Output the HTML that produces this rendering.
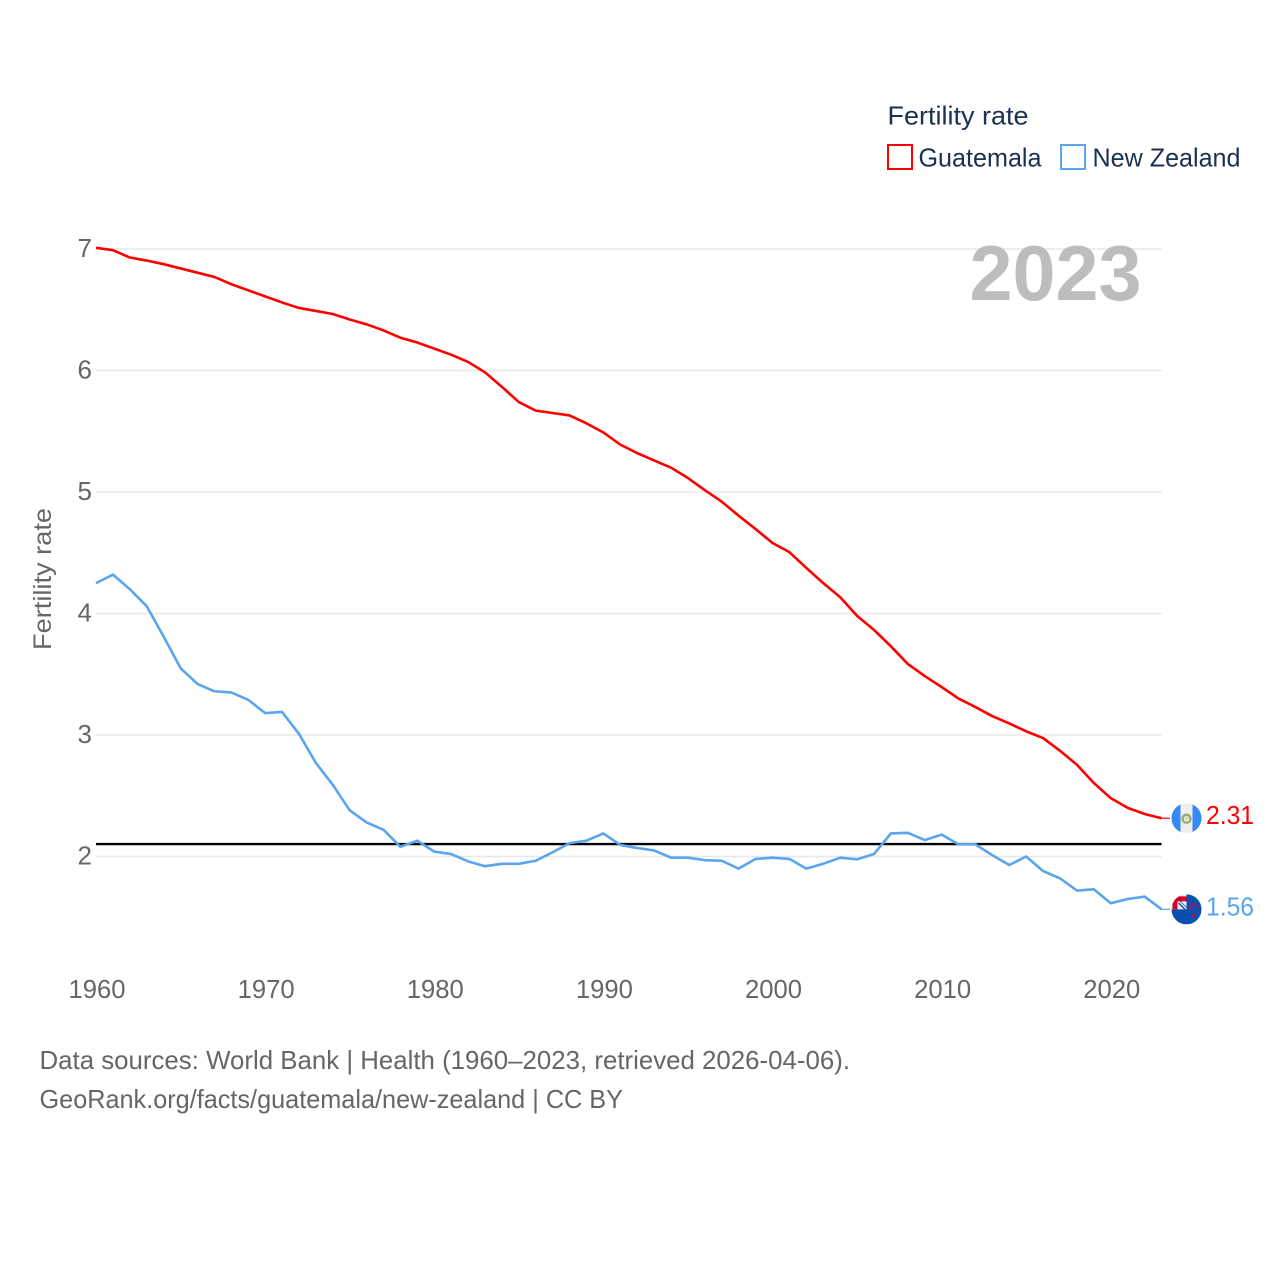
<!DOCTYPE html>
<html lang="en">
<head>
<meta charset="utf-8">
<title>Fertility rate: Guatemala and New Zealand</title>
<style>
html,body{margin:0;padding:0;background:#fff;}
svg{display:block;}
text{font-family:"Liberation Sans",sans-serif;}
</style>
</head>
<body>
<svg id="chart" xmlns="http://www.w3.org/2000/svg" width="1280" height="1280" viewBox="0 0 1280 1280">
  <defs>
    <clipPath id="flag-clip-gt"><circle cx="0" cy="0" r="15"/></clipPath>
    <clipPath id="flag-clip-nz"><circle cx="0" cy="0" r="15"/></clipPath>
  </defs>
  <rect x="0" y="0" width="1280" height="1280" fill="#fff"/>
  <g id="grid"></g>
  <text x="969.5" y="300" font-size="78" font-weight="700" fill="#bdbdbd" textLength="172" lengthAdjust="spacingAndGlyphs">2023</text>
  <g id="yticks"></g>
  <g id="xticks"></g>
  <text transform="translate(51,650) rotate(-90)" font-size="25" fill="#666" textLength="142" lengthAdjust="spacingAndGlyphs">Fertility rate</text>
  <g id="series"></g>
  <g id="flag-gt">
    <g clip-path="url(#flag-clip-gt)">
      <rect x="-15" y="-15" width="30" height="30" fill="#eeeeee"/>
      <rect x="-15" y="-15" width="9" height="30" fill="#338af3"/>
      <rect x="6" y="-15" width="9" height="30" fill="#338af3"/>
      <circle cx="0" cy="0.5" r="4" fill="none" stroke="#9aa878" stroke-width="2.4"/>
      <circle cx="0" cy="0" r="1.6" fill="#d8d4a0"/>
    </g>
  </g>
  <g id="flag-nz">
    <g clip-path="url(#flag-clip-nz)">
      <rect x="-15" y="-15" width="30" height="30" fill="#0a4fb0"/>
      <rect x="-15" y="-15" width="15" height="15" fill="#f0f0f0"/>
      <path d="M-14-13H0V-8H-9V0H-14Z" fill="#d80027"/>
      <path d="M-7-7L0 0" stroke="#0a4fb0" stroke-width="3.5" fill="none"/>
      <path d="M-6.5-7L0-.5" stroke="#f0f0f0" stroke-width="1.4" fill="none"/>
      <circle cx="7" cy="-5" r="1.4" fill="#d80027"/>
      <circle cx="3.5" cy="-1.5" r="1.4" fill="#d80027"/>
      <circle cx="10.5" cy="-2.5" r="1.2" fill="#d80027"/>
      <circle cx="7" cy="6" r="1.5" fill="#d80027"/>
    </g>
  </g>
  <g id="endlabels"></g>
  <g>
    <text x="887.5" y="124.5" font-size="26" fill="#1a3150" textLength="141" lengthAdjust="spacingAndGlyphs">Fertility rate</text>
    <g>
      <rect x="888" y="145" width="24" height="24" fill="#fff" stroke="#ff0000" stroke-width="2"/>
      <text x="918.5" y="166.5" font-size="26" fill="#1a3150" textLength="123" lengthAdjust="spacingAndGlyphs">Guatemala</text>
    </g>
    <g>
      <rect x="1061" y="145" width="24" height="24" fill="#fff" stroke="#5ba4ee" stroke-width="2"/>
      <text x="1092.5" y="166.5" font-size="26" fill="#1a3150" textLength="148" lengthAdjust="spacingAndGlyphs">New Zealand</text>
    </g>
  </g>
  <text x="39.5" y="1069" font-size="26" fill="#666" textLength="810.5" lengthAdjust="spacingAndGlyphs">Data sources: World Bank | Health (1960–2023, retrieved 2026-04-06).</text>
  <text x="39.5" y="1108" font-size="26" fill="#666" textLength="583.5" lengthAdjust="spacingAndGlyphs">GeoRank.org/facts/guatemala/new-zealand | CC BY</text>
</svg>
<script>
const firstYear = 1960;
const guatemalaValues = [7.01,6.99,6.93,6.905,6.875,6.84,6.805,6.77,6.71,6.66,6.61,6.56,6.515,6.49,6.465,6.42,6.38,6.33,6.27,6.23,6.18,6.13,6.07,5.985,5.865,5.74,5.67,5.65,5.63,5.565,5.49,5.39,5.32,5.26,5.2,5.115,5.015,4.92,4.805,4.695,4.58,4.505,4.375,4.25,4.135,3.98,3.865,3.73,3.585,3.485,3.395,3.3,3.23,3.155,3.095,3.03,2.975,2.87,2.755,2.605,2.48,2.4,2.35,2.315];
const newZealandValues = [4.25,4.32,4.2,4.06,3.81,3.55,3.42,3.36,3.35,3.29,3.18,3.19,3.01,2.77,2.59,2.38,2.28,2.22,2.08,2.13,2.04,2.02,1.96,1.92,1.94,1.94,1.965,2.035,2.11,2.13,2.19,2.095,2.07,2.05,1.99,1.99,1.97,1.965,1.9,1.98,1.99,1.98,1.9,1.94,1.99,1.977,2.02,2.19,2.195,2.135,2.18,2.1,2.1,2.01,1.93,2,1.88,1.82,1.72,1.73,1.615,1.65,1.67,1.565];
const replacementValue = 2.1;
const yTickLabels = [2,3,4,5,6,7];
const xTickLabels = [1960,1970,1980,1990,2000,2010,2020];
const guatemalaEndLabel = "2.31";
const newZealandEndLabel = "1.56";

const NS = "http://www.w3.org/2000/svg";
const xScale = function (year) { return 96 + (year - 1960) * (1161.5 - 96) / 63; };
const yScale = function (v) { return 249 + (7 - v) * 121.5; };
const X_END = xScale(2023);
const get = function (id) { return document.getElementById(id); };

function make(tag, attrs, parent) {
  const el = document.createElementNS(NS, tag);
  Object.keys(attrs).forEach(function (k) { el.setAttribute(k, attrs[k]); });
  parent.appendChild(el);
  return el;
}

yTickLabels.forEach(function (t) {
  const line = make("line", {x1: 96, x2: X_END, y1: yScale(t), y2: yScale(t), stroke: "#e8e8e8", "stroke-width": 1.5}, get("grid"));
  
  
  const label = make("text", {x: 92, y: yScale(t) + 8, "text-anchor": "end", "font-size": 26, fill: "#666"}, get("yticks"));
  
  
  label.textContent = t;
});

xTickLabels.forEach(function (t) {
  const label = make("text", {x: xScale(t) + 1, y: 998, "text-anchor": "middle", "font-size": 26, fill: "#666", textLength: 57, lengthAdjust: "spacingAndGlyphs"}, get("xticks"));
  
  
  label.textContent = t;
});

function pathFor(values) {
  return values.map(function (v, i) {
    return (i ? "L" : "M") + xScale(firstYear + i).toFixed(2) + " " + yScale(v).toFixed(2);
  }).join("");
}

function drawSeries(values, color) {
  const line = make("path", {d: pathFor(values), fill: "none", stroke: color, "stroke-width": 2.6, "stroke-linejoin": "round"}, get("series"));
  return line;
}

const refLine = make("line", {x1: 96, x2: X_END, y1: yScale(replacementValue) - 0.3, y2: yScale(replacementValue) - 0.3, stroke: "#000", "stroke-width": 2.4}, get("series"));



const nzLine = drawSeries(newZealandValues, "#5ba4ee");



const gtLine = drawSeries(guatemalaValues, "#ff0000");



const gtLast = yScale(guatemalaValues[guatemalaValues.length - 1]);
const nzLast = yScale(newZealandValues[newZealandValues.length - 1]);

const gtLead = make("line", {x1: X_END, x2: 1170, y1: gtLast, y2: gtLast, stroke: "#ff0000", "stroke-width": 1.2}, get("series"));


const nzLead = make("line", {x1: X_END, x2: 1170, y1: nzLast, y2: nzLast, stroke: "#5ba4ee", "stroke-width": 1.2}, get("series"));



get("flag-gt").setAttribute("transform", "translate(1186.5," + gtLast + ")");
get("flag-nz").setAttribute("transform", "translate(1186.5," + nzLast + ")");

const gtEnd = make("text", {x: 1206, y: gtLast + 6, "font-size": 26, fill: "#ff0000", textLength: 48, lengthAdjust: "spacingAndGlyphs"}, get("endlabels"));


gtEnd.textContent = guatemalaEndLabel;

const nzEnd = make("text", {x: 1206, y: nzLast + 6, "font-size": 26, fill: "#5ba4ee", textLength: 48, lengthAdjust: "spacingAndGlyphs"}, get("endlabels"));


nzEnd.textContent = newZealandEndLabel;
</script>
</body>
</html>
